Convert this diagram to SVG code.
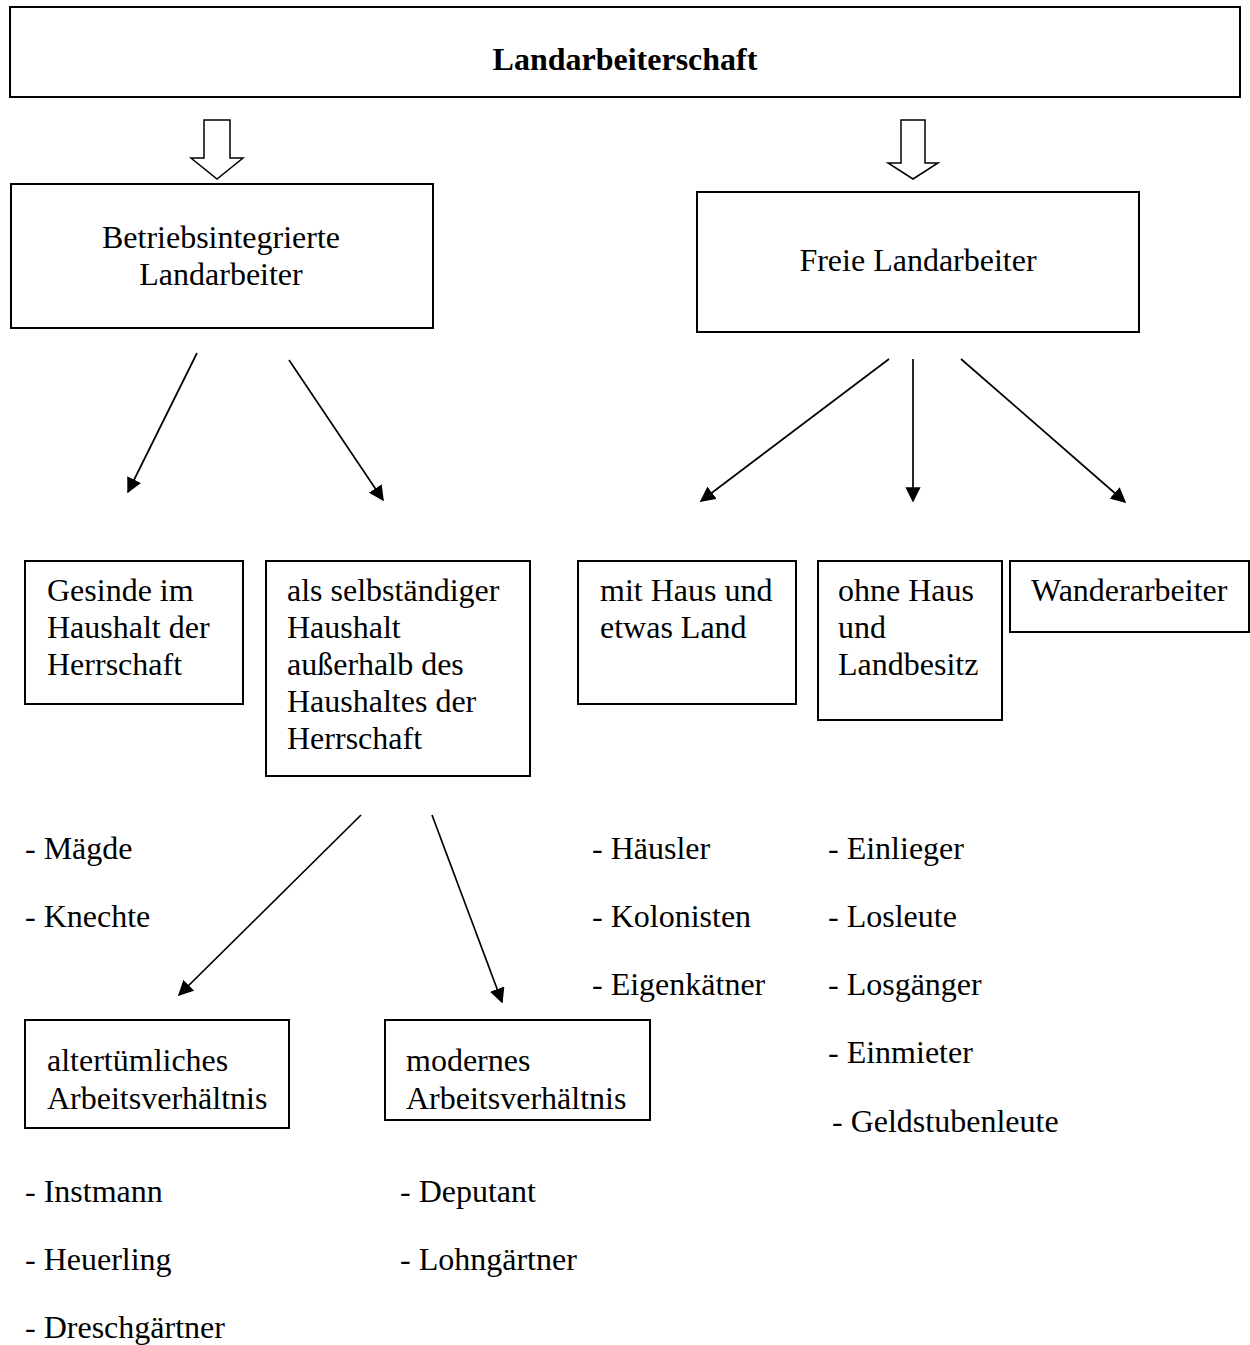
<svg xmlns="http://www.w3.org/2000/svg" width="1250" height="1345" viewBox="0 0 1250 1345">
<style>
text{font-family:"Liberation Serif","Times New Roman",serif;font-size:32px;fill:#000}
.b{font-weight:bold}
.c{text-anchor:middle}
.box{fill:#fff;stroke:#000;stroke-width:2}
.ln{stroke:#000;stroke-width:1.7;fill:none}
.hollow{fill:#fff;stroke:#000;stroke-width:1.5}
</style>
<defs>
<marker id="ah" viewBox="0 0 10 10" refX="9" refY="5" markerWidth="9" markerHeight="9" markerUnits="strokeWidth" orient="auto">
<path d="M0,0 L10,5 L0,10 z" fill="#000"/>
</marker>
</defs>
<rect width="1250" height="1345" fill="#fff"/>
<g id="n-top"><rect class="box" x="10" y="7" width="1230" height="90"/><text class="b c" x="625" y="70">Landarbeiterschaft</text></g>
<g id="n-betrieb"><rect class="box" x="11" y="184" width="422" height="144"/><text class="c" x="221" y="248">Betriebsintegrierte</text><text class="c" x="221" y="285">Landarbeiter</text></g>
<g id="n-freie"><rect class="box" x="697" y="192" width="442" height="140"/><text class="c" x="918" y="271">Freie Landarbeiter</text></g>
<g id="n-gesinde"><rect class="box" x="25" y="561" width="218" height="143"/><text x="47" y="601">Gesinde im</text><text x="47" y="638">Haushalt der</text><text x="47" y="675">Herrschaft</text></g>
<g id="n-selbst"><rect class="box" x="266" y="561" width="264" height="215"/><text x="287" y="601">als selbständiger</text><text x="287" y="638">Haushalt</text><text x="287" y="675">außerhalb des</text><text x="287" y="712">Haushaltes der</text><text x="287" y="749">Herrschaft</text></g>
<g id="n-mit"><rect class="box" x="578" y="561" width="218" height="143"/><text x="600" y="601">mit Haus und</text><text x="600" y="638">etwas Land</text></g>
<g id="n-ohne"><rect class="box" x="818" y="561" width="184" height="159"/><text x="838" y="601">ohne Haus</text><text x="838" y="638">und</text><text x="838" y="675">Landbesitz</text></g>
<g id="n-wander"><rect class="box" x="1010" y="561" width="239" height="71"/><text x="1031" y="601">Wanderarbeiter</text></g>
<g id="n-alt"><rect class="box" x="25" y="1020" width="264" height="108"/><text x="47" y="1071">altertümliches</text><text x="47" y="1109">Arbeitsverhältnis</text></g>
<g id="n-modern"><rect class="box" x="385" y="1020" width="265" height="100"/><text x="406" y="1071">modernes</text><text x="406" y="1109">Arbeitsverhältnis</text></g>
<g id="l-gesinde"><text x="25" y="859">- Mägde</text><text x="25" y="927">- Knechte</text></g>
<g id="l-mit"><text x="592" y="859">- Häusler</text><text x="592" y="927">- Kolonisten</text><text x="592" y="995">- Eigenkätner</text></g>
<g id="l-ohne"><text x="828" y="859">- Einlieger</text><text x="828" y="927">- Losleute</text><text x="828" y="995">- Losgänger</text><text x="828" y="1063">- Einmieter</text><text x="832" y="1132">- Geldstubenleute</text></g>
<g id="l-alt"><text x="25" y="1202">- Instmann</text><text x="25" y="1270">- Heuerling</text><text x="25" y="1338">- Dreschgärtner</text></g>
<g id="l-modern"><text x="400" y="1202">- Deputant</text><text x="400" y="1270">- Lohngärtner</text></g>
<g id="connectors">
<path class="hollow" d="M204,120 H230 V158 H243 L217,179 L191,158 H204 Z"/>
<path class="hollow" d="M901,120 H925 V163 H938 L913,179 L888,163 H901 Z"/>
<line class="ln" x1="197" y1="353" x2="128" y2="492" marker-end="url(#ah)"/>
<line class="ln" x1="289" y1="360" x2="383" y2="500" marker-end="url(#ah)"/>
<line class="ln" x1="889" y1="359" x2="701" y2="501" marker-end="url(#ah)"/>
<line class="ln" x1="913" y1="359" x2="913" y2="501" marker-end="url(#ah)"/>
<line class="ln" x1="961" y1="359" x2="1125" y2="502" marker-end="url(#ah)"/>
<line class="ln" x1="361" y1="815" x2="179" y2="995" marker-end="url(#ah)"/>
<line class="ln" x1="432" y1="815" x2="502" y2="1002" marker-end="url(#ah)"/>
</g>
</svg>
